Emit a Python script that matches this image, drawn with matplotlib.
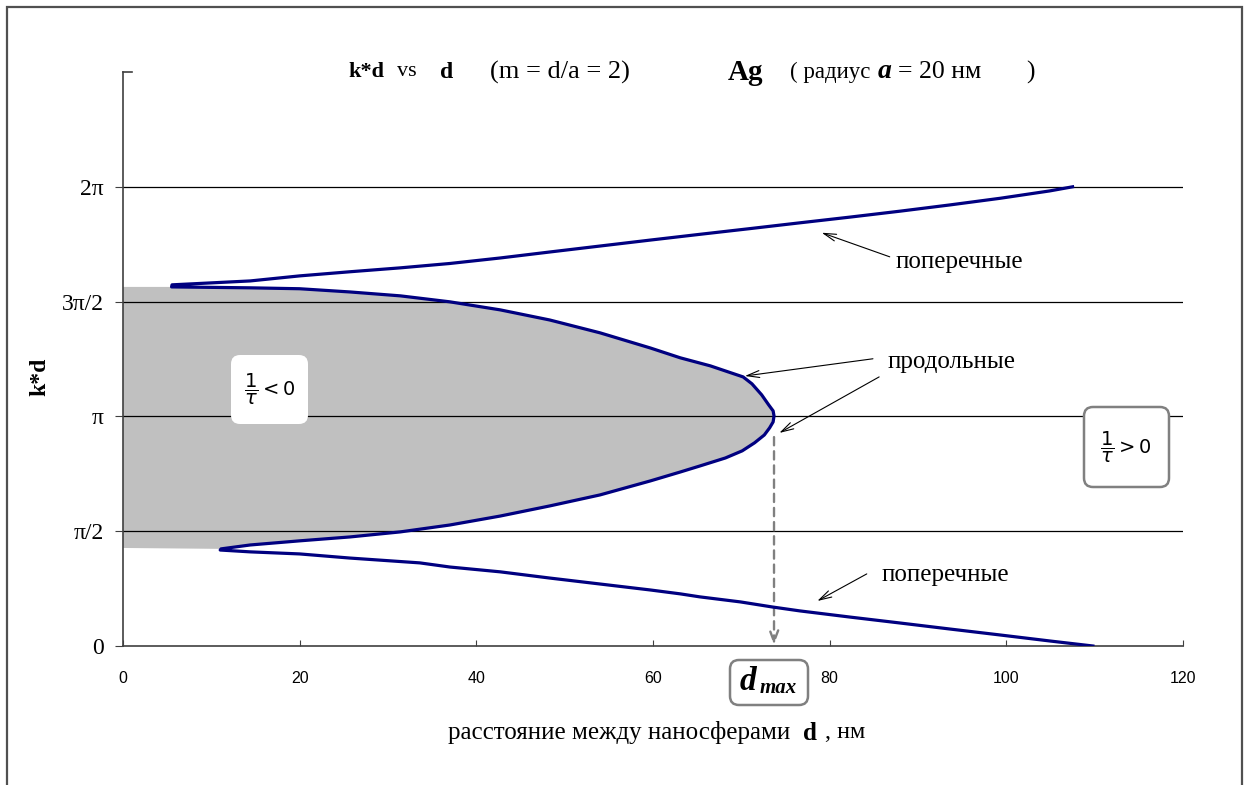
import numpy as np
import matplotlib.pyplot as plt
from matplotlib.patches import FancyBboxPatch, Rectangle
from matplotlib.transforms import IdentityTransform

W, H = 1247, 785
SERIF = 'Liberation Serif'
SANS = 'Liberation Sans'

# lower transverse branch: d (nm), k*d in units of pi
d_tr_low = [109.8, 104.9, 99.3, 93.6, 88.0, 82.3, 76.6, 73.5, 69.9, 65.3, 63.1,
            59.7, 54.0, 48.3, 42.7, 37.0, 33.6, 25.7, 20.0, 14.4, 11.0]
kd_tr_low = [0.000, 0.022, 0.048, 0.074, 0.100, 0.126, 0.153, 0.170, 0.192, 0.214, 0.227,
             0.244, 0.270, 0.296, 0.323, 0.344, 0.362, 0.383, 0.401, 0.410, 0.418]

# longitudinal branch, from the lower cusp round the tip to the upper cusp
d_long = [11.1, 14.4, 20.0, 25.7, 31.4, 37.0, 42.7, 48.3, 54.0, 59.7, 63.1, 65.3,
          68.2, 70.1, 71.5, 72.6, 73.2, 73.6, 73.7, 73.6, 73.1, 72.3, 71.2, 70.2,
          68.5, 66.5, 63.1, 59.7, 54.0, 48.3, 42.7, 37.0, 31.4, 25.7, 20.0, 14.4, 5.5]
kd_long = [0.423, 0.440, 0.458, 0.475, 0.497, 0.527, 0.566, 0.610, 0.658, 0.719, 0.758, 0.784,
           0.819, 0.850, 0.885, 0.919, 0.950, 0.976, 1.002, 1.024, 1.050, 1.094, 1.142, 1.172,
           1.194, 1.220, 1.255, 1.298, 1.364, 1.420, 1.464, 1.499, 1.525, 1.542, 1.556, 1.560, 1.564]

# upper transverse branch
d_tr_up = [5.55, 14.4, 20.0, 25.7, 31.4, 37.0, 42.7, 48.3, 54.0, 59.7,
           65.3, 71.0, 76.6, 82.3, 88.0, 93.6, 99.3, 104.9, 107.5]
kd_tr_up = [1.573, 1.590, 1.612, 1.630, 1.647, 1.666, 1.690, 1.716, 1.742, 1.768,
            1.793, 1.818, 1.843, 1.868, 1.894, 1.921, 1.950, 1.982, 2.000]

# shaded region 1/tau < 0 (k*d limits, units of pi)
shade_bottom = 0.427
shade_top = 1.564

yticks = [0, 0.5, 1, 1.5, 2]
ytick_labels = ['0', 'π/2', 'π', '3π/2', '2π']
xticks = [0, 20, 40, 60, 80, 100, 120]

line_color = '#000080'


def fig_xy(x, y):
    return x / W, 1 - y / H


fig = plt.figure(figsize=(W / 100, H / 100), dpi=100)
ax = fig.add_axes([123 / W, 1 - 646 / H, 1060 / W, 574 / H])

# grey region between the axis and the longitudinal branch
fx = np.r_[0, d_long, 0]
fy = np.r_[shade_bottom, kd_long, shade_top] * np.pi
ax.fill(fx, fy, color='#c0c0c0', lw=0, zorder=1)

for yt in yticks[1:]:
    ax.axhline(yt * np.pi, color='black', lw=0.9, zorder=2)

d_all = np.r_[d_tr_low, d_long, d_tr_up]
kd_all = np.r_[kd_tr_low, kd_long, kd_tr_up] * np.pi
ax.plot(d_all, kd_all, color=line_color, lw=2.3, solid_joinstyle='round', zorder=4)

ax.set_xlim(0, 120)
ax.set_ylim(0, 2.5 * np.pi)
ax.spines['top'].set_visible(False)
ax.spines['right'].set_visible(False)
for s in ('left', 'bottom'):
    ax.spines[s].set_color('#404040')
    ax.spines[s].set_linewidth(1.2)

ax.set_xticks(xticks)
ax.set_xticklabels([str(t) for t in xticks], fontfamily=SANS, fontsize=11.5)
ax.tick_params(axis='x', direction='in', length=4, pad=18, color='#404040')
ax.set_yticks([t * np.pi for t in yticks])
ax.set_yticklabels(ytick_labels, fontfamily=SERIF, fontsize=17)
ax.tick_params(axis='y', direction='out', length=6, pad=8, color='#404040')
ax.plot([0, 1.0], [2.5 * np.pi] * 2, color='#404040', lw=1.2, clip_on=False)

# dashed marker at the tip of the longitudinal branch
d_max = max(d_long)
ax.annotate('', xy=(d_max, 0.005 * np.pi), xytext=(d_max, 0.91 * np.pi),
            arrowprops=dict(arrowstyle='->,head_length=0.8,head_width=0.3',
                            color='#808080', lw=1.7, ls=(0, (3.5, 2.5)),
                            shrinkA=0, shrinkB=0), zorder=3)

arrow = dict(arrowstyle='->,head_length=0.9,head_width=0.25', color='black', lw=0.8,
             shrinkA=0, shrinkB=0)
ax.annotate('', xy=(79.1, 1.800 * np.pi), xytext=(86.8, 1.695 * np.pi), arrowprops=arrow)
ax.annotate('', xy=(70.4, 1.176 * np.pi), xytext=(84.9, 1.251 * np.pi), arrowprops=arrow)
ax.annotate('', xy=(74.3, 0.928 * np.pi), xytext=(85.6, 1.172 * np.pi), arrowprops=arrow)
ax.annotate('', xy=(78.6, 0.196 * np.pi), xytext=(84.2, 0.314 * np.pi), arrowprops=arrow)

ax.text(87.4, 1.673 * np.pi, 'поперечные', fontfamily=SERIF, fontsize=18, va='center')
ax.text(86.6, 1.237 * np.pi, 'продольные', fontfamily=SERIF, fontsize=18, va='center')
ax.text(85.9, 0.309 * np.pi, 'поперечные', fontfamily=SERIF, fontsize=18, va='center')


# boxes
def box(x0, y0, x1, y1, edge, lw):
    p = FancyBboxPatch((x0, H - y1), x1 - x0, y1 - y0,
                       boxstyle='round,pad=0,rounding_size=9',
                       transform=IdentityTransform(), facecolor='white',
                       edgecolor=edge, lw=lw, zorder=5)
    fig.patches.append(p)


box(231, 355, 308, 424, 'none', 0)
box(1084, 407, 1169, 487, '#808080', 1.8)
box(730, 660, 808, 705, '#808080', 1.8)

fig.text(*fig_xy(270, 389), r'$\dfrac{1}{\tau}<0$', fontsize=14, ha='center', va='center', zorder=6)
fig.text(*fig_xy(1126, 447), r'$\dfrac{1}{\tau}>0$', fontsize=14, ha='center', va='center', zorder=6)
fig.text(*fig_xy(740, 682), 'd', fontfamily=SERIF, fontweight='bold', fontstyle='italic',
         fontsize=24, ha='left', va='center', zorder=6)
fig.text(*fig_xy(760, 688), 'max', fontfamily=SERIF, fontweight='bold', fontstyle='italic',
         fontsize=15, ha='left', va='center', zorder=6)

# title pieces
ty = 72
fig.text(*fig_xy(348, ty), 'k*d', fontfamily=SERIF, fontweight='bold', fontsize=16, va='center')
fig.text(*fig_xy(397, ty), 'vs', fontfamily=SERIF, fontsize=16, va='center')
fig.text(*fig_xy(440, ty), 'd', fontfamily=SERIF, fontweight='bold', fontsize=17, va='center')
fig.text(*fig_xy(490, ty), '(m = d/a = 2)', fontfamily=SERIF, fontsize=19, va='center')
fig.text(*fig_xy(728, ty), 'Ag', fontfamily=SERIF, fontweight='bold', fontsize=21, va='center')
fig.text(*fig_xy(790, ty), '( радиус', fontfamily=SERIF, fontsize=16.5, va='center')
fig.text(*fig_xy(878, ty), 'a', fontfamily=SERIF, fontweight='bold', fontstyle='italic',
         fontsize=20, va='center')
fig.text(*fig_xy(898, ty), '= 20 нм', fontfamily=SERIF, fontsize=18.5, va='center')
fig.text(*fig_xy(1026, ty), ')', fontfamily=SERIF, fontsize=18.5, va='center')

# axis labels
fig.text(*fig_xy(40, 377), 'k*d', fontfamily=SERIF, fontweight='bold', fontsize=17,
         rotation=90, ha='center', va='center')
fig.text(*fig_xy(448, 733), 'расстояние между наносферами', fontfamily=SERIF, fontsize=18,
         va='center')
fig.text(*fig_xy(803, 733), 'd', fontfamily=SERIF, fontweight='bold', fontsize=18, va='center')
fig.text(*fig_xy(825, 733), ', нм', fontfamily=SERIF, fontsize=17.5, va='center')

# outer frame
fig.patches.append(Rectangle((7, -10), 1235, H - 7 + 10, transform=IdentityTransform(),
                             fill=False, edgecolor='#505050', lw=1.6))

fig.savefig('out.png', dpi=100)
